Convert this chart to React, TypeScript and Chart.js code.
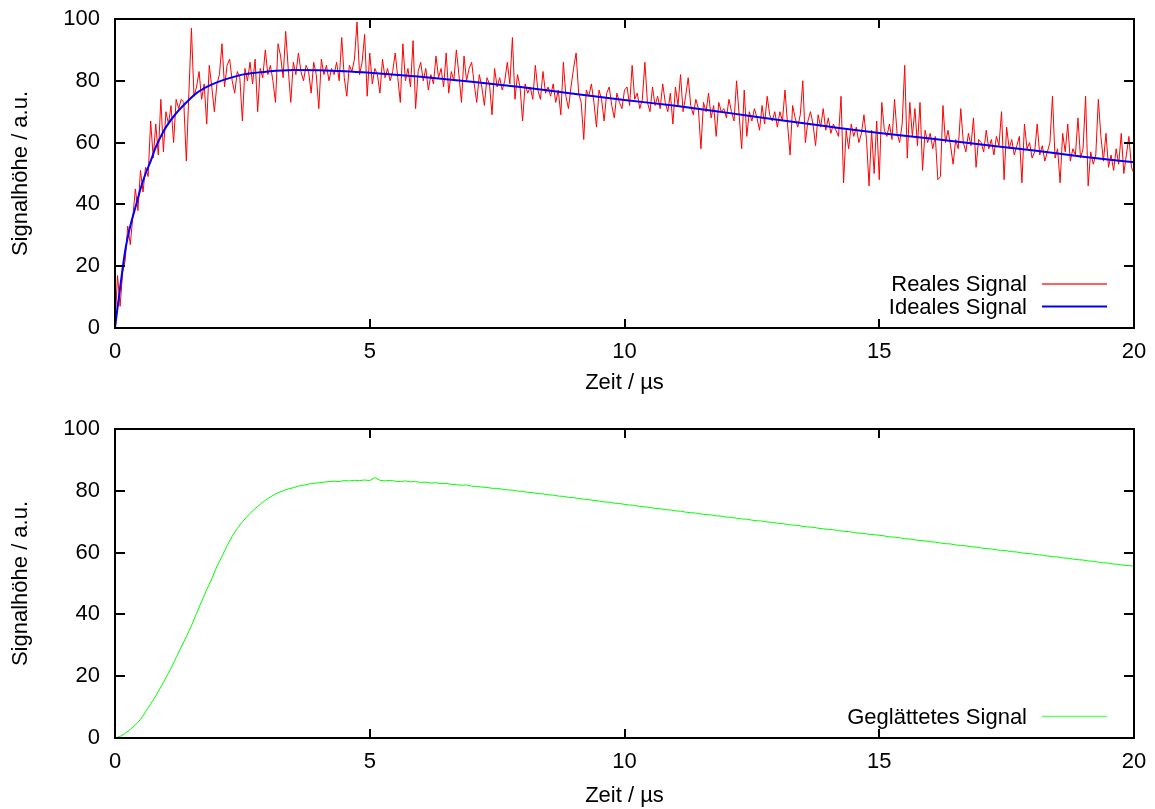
import React, { useEffect, useRef } from "react";
import { Chart, registerables } from "chart.js";

Chart.register(...registerables);

// ---------- data ----------
const X_TICKS = [0, 5, 10, 15, 20];
const Y_TICKS = [0, 20, 40, 60, 80, 100];

// Reales Signal, sampled every 0.05 µs from 0 to 20 µs
const REAL_DT = 0.05;
const REAL_SIGNAL = [
  // 0.00 - 0.95
  1, 17, 7, 18, 22, 33, 27, 36, 45, 38, 51, 44, 52, 49, 67, 55, 66, 56, 74, 57,
  // 1.00 - 1.95
  70, 66, 72, 60, 74, 71, 74, 73, 54, 76, 97, 75, 78, 83, 74, 79, 66, 85, 78, 70,
  // 2.00 - 2.95
  79, 82, 92, 78, 85, 87, 80, 76, 83, 81, 67, 84, 80, 86, 79, 87, 70, 84, 81, 90,
  // 3.00 - 3.95
  82, 85, 80, 73, 92, 88, 81, 96, 84, 73, 86, 82, 89, 83, 80, 85, 83, 76, 86, 82,
  // 4.00 - 4.95
  71, 87, 82, 85, 80, 84, 82, 86, 80, 94, 81, 75, 85, 83, 87, 99, 82, 86, 95, 75,
  // 5.00 - 5.95
  89, 79, 84, 82, 76, 87, 81, 84, 80, 83, 89, 81, 73, 92, 80, 84, 78, 93, 71, 83,
  // 6.00 - 6.95
  86, 80, 84, 77, 82, 79, 88, 81, 84, 78, 89, 76, 83, 80, 90, 82, 73, 88, 80, 84,
  // 7.00 - 7.95
  86, 79, 73, 82, 78, 72, 81, 79, 69, 84, 78, 81, 77, 80, 86, 79, 94, 74, 82, 78,
  // 8.00 - 8.95
  67, 79, 76, 78, 74, 85, 77, 74, 83, 76, 78, 75, 79, 73, 77, 69, 86, 75, 71, 78,
  // 9.00 - 9.95
  84, 89, 76, 73, 61, 77, 75, 79, 73, 65, 77, 74, 67, 76, 78, 72, 68, 76, 73, 71,
  // 10.00 - 10.95
  77, 78, 72, 85, 74, 76, 71, 74, 86, 73, 70, 78, 72, 75, 71, 79, 73, 70, 76, 66,
  // 11.00 - 11.95
  78, 72, 82, 70, 75, 81, 72, 69, 74, 71, 58, 73, 70, 76, 68, 72, 62, 73, 70, 71,
  // 12.00 - 12.95
  68, 74, 70, 67, 80, 69, 58, 77, 62, 70, 67, 71, 68, 64, 72, 66, 75, 69, 67, 70,
  // 13.00 - 13.95
  65, 70, 67, 77, 66, 56, 72, 68, 65, 69, 80, 60, 67, 70, 66, 59, 69, 65, 71, 64,
  // 14.00 - 14.95
  68, 63, 66, 64, 62, 75, 47, 64, 58, 66, 62, 65, 60, 63, 69, 61, 46, 64, 50, 67,
  // 15.00 - 15.95
  48, 73, 64, 62, 66, 61, 74, 63, 60, 66, 85, 55, 73, 62, 71, 59, 73, 51, 64, 60,
  // 16.00 - 16.95
  63, 58, 62, 48, 49, 72, 60, 64, 59, 53, 61, 58, 71, 60, 57, 63, 59, 68, 52, 61,
  // 17.00 - 17.95
  60, 57, 64, 58, 61, 56, 62, 59, 70, 48, 65, 58, 61, 56, 59, 62, 47, 66, 58, 60,
  // 18.00 - 18.95
  55, 57, 66, 56, 59, 54, 57, 60, 75, 55, 58, 47, 63, 57, 66, 54, 58, 56, 68, 55,
  // 19.00 - 19.95
  58, 75, 46, 57, 53, 56, 74, 62, 54, 63, 52, 56, 51, 58, 53, 63, 50, 56, 62, 52,
  // 20.00
  50,
];

// Ideales Signal
const IDEAL_T = [0, 0.1, 0.2, 0.3, 0.4, 0.5, 0.6, 0.7, 0.8, 0.9, 1.0, 1.2, 1.4, 1.6, 1.8, 2.0, 2.5, 3.0, 3.5, 4.0, 4.5, 5, 6, 7, 8, 9, 10, 11, 12, 13, 14, 15, 16, 17, 18, 19, 20];
const IDEAL_V = [0, 13, 25, 33, 39, 45, 50, 54, 58.5, 62, 65, 69.5, 73, 76, 78, 79.5, 82, 83, 83.5, 83.4, 83.1, 82.6, 81.3, 79.7, 77.9, 75.8, 73.8, 71.9, 69.7, 67.4, 65.2, 63.1, 61.3, 59.4, 57.5, 55.4, 53.6];

// Geglättetes Signal, sampled every 0.1 µs
const SMOOTH_DT = 0.1;
const SMOOTH_SIGNAL = [
  0, 0.5, 1.5, 2.8, 4.2, 6.0, 8.5, 11.0, 13.6, 16.5,
  19.5, 22.6, 26.0, 29.4, 32.8, 36.3, 40.3, 44.2, 48.0, 51.5,
  55.5, 58.8, 62.2, 65.3, 67.8, 70.0, 71.8, 73.5, 74.9, 76.3,
  77.5, 78.5, 79.4, 80.0, 80.6, 81.0, 81.5, 81.8, 82.2, 82.4,
  82.6, 82.8, 83.0, 83.1, 83.0, 83.3, 83.2, 83.4, 83.3, 83.5,
  83.3, 84.3, 83.4, 83.2, 83.4, 83.1, 83.0, 83.2, 82.9, 83.0,
  82.7, 82.8, 82.5, 82.6, 82.3, 82.4, 82.1, 82.0, 81.8, 81.9,
  81.5, 81.4, 81.2, 81.1, 80.8, 80.8, 80.5, 80.3, 80.2, 79.9,
  79.8, 79.5, 79.4, 79.1, 79.0, 78.7, 78.6, 78.3, 78.2, 77.9,
  77.8, 77.5, 77.3, 77.1, 76.9, 76.7, 76.4, 76.3, 76.0, 75.9,
  75.6, 75.4, 75.3, 74.9, 74.8, 74.6, 74.3, 74.2, 73.9, 73.8,
  73.5, 73.4, 73.1, 72.9, 72.8, 72.5, 72.3, 72.2, 71.9, 71.8,
  71.5, 71.4, 71.1, 70.9, 70.8, 70.5, 70.3, 70.2, 69.9, 69.8,
  69.5, 69.4, 69.1, 68.9, 68.8, 68.5, 68.3, 68.2, 67.9, 67.7,
  67.5, 67.4, 67.1, 66.9, 66.8, 66.5, 66.3, 66.2, 65.9, 65.8,
  65.6, 65.4, 65.1, 65.0, 64.8, 64.5, 64.4, 64.1, 63.9, 63.8,
  63.5, 63.4, 63.1, 62.9, 62.8, 62.5, 62.3, 62.2, 61.9, 61.8,
  61.5, 61.3, 61.2, 60.9, 60.7, 60.6, 60.3, 60.2, 59.9, 59.7,
  59.6, 59.3, 59.2, 58.9, 58.7, 58.6, 58.3, 58.2, 57.9, 57.7,
  57.6, 57.3, 57.2, 56.9, 56.7, 56.6, 56.3, 56.2, 55.9, 55.8,
  55.6,
];

const FONT = "'Liberation Sans', Arial, Helvetica, sans-serif";

type LegendItem = { label: string; color: string; width: number };

const framePlugin = {
  id: "gpFrame",
  afterDatasetsDraw(chart: any, _args: any, opts: any) {
    const { ctx, chartArea, scales } = chart;
    const { left, right, top, bottom } = chartArea;
    const xs = scales.x;
    const ys = scales.y;
    ctx.save();
    // legend
    const items: LegendItem[] = opts.items || [];
    ctx.font = `22px ${FONT}`;
    ctx.textAlign = "right";
    ctx.textBaseline = "middle";
    const n = items.length;
    items.forEach((it, i) => {
      const yy = bottom - 21.5 - 22.5 * (n - 1 - i);
      ctx.fillStyle = "#000";
      ctx.fillText(it.label, right - 107, yy + 1);
      ctx.strokeStyle = it.color;
      ctx.lineWidth = it.width;
      ctx.beginPath();
      ctx.moveTo(right - 92, yy);
      ctx.lineTo(right - 27, yy);
      ctx.stroke();
    });
    // frame
    ctx.strokeStyle = "#000";
    ctx.lineWidth = 2;
    ctx.strokeRect(left, top, right - left, bottom - top);
    ctx.beginPath();
    for (const v of X_TICKS) {
      const px = Math.round(xs.getPixelForValue(v));
      ctx.moveTo(px, bottom);
      ctx.lineTo(px, bottom - 9);
      ctx.moveTo(px, top);
      ctx.lineTo(px, top + 9);
    }
    for (const v of Y_TICKS) {
      const py = Math.round(ys.getPixelForValue(v));
      ctx.moveTo(left, py);
      ctx.lineTo(left + 10, py);
      ctx.moveTo(right, py);
      ctx.lineTo(right - 10, py);
    }
    ctx.stroke();
    ctx.restore();
  },
};

function makeOptions(items: LegendItem[], xAxisHeight: number, titleBottomPad: number) {
  const tickFont = { family: FONT, size: 22 };
  return {
    responsive: false,
    animation: false as const,
    events: [],
    layout: { padding: { top: 19, right: 21, left: 0, bottom: 0 } },
    plugins: {
      legend: { display: false },
      tooltip: { enabled: false },
      gpFrame: { items },
    },
    scales: {
      x: {
        type: "linear" as const,
        min: 0,
        max: 20,
        afterFit: (s: any) => {
          s.height = xAxisHeight;
          s.paddingLeft = 0;
          s.paddingRight = 0;
          s.paddingTop = 0;
          s.paddingBottom = 0;
        },
        afterBuildTicks: (s: any) => {
          s.ticks = X_TICKS.map((v) => ({ value: v }));
        },
        grid: { display: false, drawTicks: false },
        border: { display: false },
        ticks: { font: tickFont, color: "#000", padding: 11, maxRotation: 0, autoSkip: false },
        title: {
          display: true,
          text: "Zeit / µs",
          font: tickFont,
          color: "#000",
          padding: { top: 0, bottom: titleBottomPad },
        },
      },
      y: {
        type: "linear" as const,
        min: 0,
        max: 100,
        afterFit: (s: any) => {
          s.width = 115;
          s.paddingLeft = 0;
          s.paddingRight = 0;
          s.paddingTop = 0;
          s.paddingBottom = 0;
        },
        afterBuildTicks: (s: any) => {
          s.ticks = Y_TICKS.map((v) => ({ value: v }));
        },
        grid: { display: false, drawTicks: false },
        border: { display: false },
        ticks: { font: tickFont, color: "#000", padding: 15, autoSkip: false },
        title: {
          display: true,
          text: "Signalhöhe / a.u.",
          font: tickFont,
          color: "#000",
          padding: { top: 8, bottom: 0 },
        },
      },
    },
  };
}

export default function App() {
  const topRef = useRef<HTMLCanvasElement | null>(null);
  const botRef = useRef<HTMLCanvasElement | null>(null);

  useEffect(() => {
    const realData = REAL_SIGNAL.map((v, i) => ({ x: i * REAL_DT, y: v }));
    const idealData = IDEAL_T.map((t, i) => ({ x: t, y: IDEAL_V[i] }));
    const smoothData = SMOOTH_SIGNAL.map((v, i) => ({ x: i * SMOOTH_DT, y: v }));

    const c1 = new Chart(topRef.current as HTMLCanvasElement, {
      type: "line",
      data: {
        datasets: [
          {
            label: "Ideales Signal",
            data: idealData,
            borderColor: "#0000ff",
            borderWidth: 2,
            pointRadius: 0,
            cubicInterpolationMode: "monotone",
            fill: false,
          },
          {
            label: "Reales Signal",
            data: realData,
            borderColor: "#ff0000",
            borderWidth: 1,
            pointRadius: 0,
            tension: 0,
            fill: false,
          },
        ],
      },
      options: makeOptions(
        [
          { label: "Reales Signal", color: "#ff6060", width: 2 },
          { label: "Ideales Signal", color: "#0000ff", width: 2 },
        ],
        72,
        4
      ) as any,
      plugins: [framePlugin],
    });

    const c2 = new Chart(botRef.current as HTMLCanvasElement, {
      type: "line",
      data: {
        datasets: [
          {
            label: "Geglättetes Signal",
            data: smoothData,
            borderColor: "#00ff00",
            borderWidth: 1,
            pointRadius: 0,
            tension: 0,
            fill: false,
          },
        ],
      },
      options: makeOptions([{ label: "Geglättetes Signal", color: "#60ff60", width: 1.5 }], 71, 0) as any,
      plugins: [framePlugin],
    });

    return () => {
      c1.destroy();
      c2.destroy();
    };
  }, []);

  return (
    <div style={{ position: "fixed", left: 0, top: 0, width: 1155, height: 809, background: "#fff" }}>
      <canvas
        ref={topRef}
        width={1155}
        height={400}
        style={{ position: "absolute", left: 0, top: 0, width: 1155, height: 400 }}
      />
      <canvas
        ref={botRef}
        width={1155}
        height={399}
        style={{ position: "absolute", left: 0, top: 410, width: 1155, height: 399 }}
      />
    </div>
  );
}
